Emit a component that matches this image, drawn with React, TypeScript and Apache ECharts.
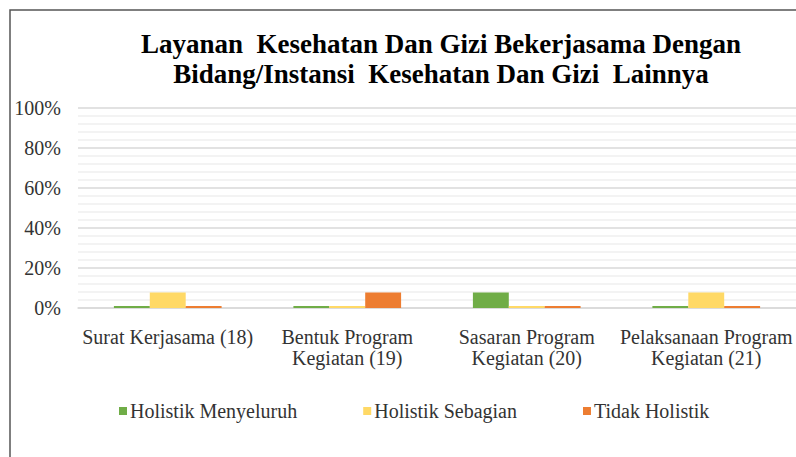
import React, { useEffect, useRef } from "react";
import * as echarts from "echarts";

const titleLines = [
  "Layanan  Kesehatan Dan Gizi Bekerjasama Dengan",
  "Bidang/Instansi  Kesehatan Dan Gizi  Lainnya",
];
const categories = [
  "Surat Kerjasama (18)",
  "Bentuk Program\nKegiatan (19)",
  "Sasaran Program\nKegiatan (20)",
  "Pelaksanaan Program\nKegiatan (21)",
];
const seriesNames = ["Holistik Menyeluruh", "Holistik Sebagian", "Tidak Holistik"];
const holistikMenyeluruh = [1, 1, 7.7, 1];
const holistikSebagian = [7.7, 1, 1, 7.7];
const tidakHolistik = [1, 7.7, 1, 1];
const colors = ["#70AD47", "#FFD966", "#ED7D31"];

const FONT = "Liberation Serif";

export default function App() {
  const ref = useRef<HTMLDivElement>(null);
  useEffect(() => {
    if (!ref.current) return;
    const chart = echarts.init(ref.current, undefined, { renderer: "svg" });
    const values = [holistikMenyeluruh, holistikSebagian, tidakHolistik];
    chart.setOption({
      animation: false,
      backgroundColor: "#ffffff",
      textStyle: { fontFamily: FONT },
      graphic: [
        {
          type: "rect",
          shape: { x: 10, y: 10, width: 900, height: 600 },
          style: { fill: "none", stroke: "#555555", lineWidth: 1.5 },
          z: -1,
        },
        ...titleLines.map((t, i) => ({
          type: "text",
          x: 441,
          y: 44 + i * 30,
          style: {
            text: t,
            fontFamily: FONT,
            fontSize: 27,
            fontWeight: "bold",
            fill: "#000000",
            textAlign: "center",
            textVerticalAlign: "middle",
          },
        })),
      ],
      legend: {
        data: seriesNames,
        left: 114,
        top: 396,
        itemWidth: 8,
        itemHeight: 8,
        itemGap: 66,
        icon: "rect",
        textStyle: { fontFamily: FONT, fontSize: 20, color: "#333333", padding: [0, 0, 0, -2] },
      },
      grid: { left: 78, right: -8, top: 108, bottom: 149, containLabel: false },
      xAxis: {
        type: "category",
        data: categories,
        axisLine: { lineStyle: { color: "#d9d9d9", width: 1.5 } },
        axisTick: { show: false },
        axisLabel: {
          interval: 0,
          margin: 18,
          fontFamily: FONT,
          fontSize: 20,
          lineHeight: 21,
          color: "#333333",
        },
      },
      yAxis: {
        type: "value",
        min: 0,
        max: 100,
        interval: 20,
        axisLine: { show: false },
        axisTick: { show: false },
        axisLabel: {
          formatter: "{value}%",
          margin: 17,
          fontFamily: FONT,
          fontSize: 20,
          color: "#333333",
        },
        splitLine: { lineStyle: { color: "#d9d9d9", width: 1.5 } },
        minorTick: { show: false, splitNumber: 5 },
        minorSplitLine: { show: true, lineStyle: { color: "#efefef", width: 1.5 } },
      },
      series: seriesNames.map((name, i) => ({
        name,
        type: "bar",
        data: values[i],
        itemStyle: { color: colors[i] },
        barGap: "0%",
        barCategoryGap: "40%",
      })),
    });
    return () => chart.dispose();
  }, []);
  return (
    <div
      ref={ref}
      style={{ position: "fixed", left: 0, top: 0, width: 796, height: 457, background: "#fff" }}
    />
  );
}
